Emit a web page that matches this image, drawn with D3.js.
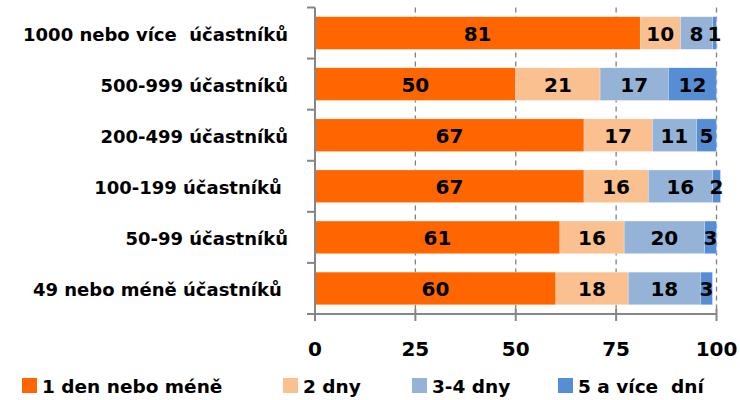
<!DOCTYPE html>
<html><head><meta charset="utf-8">
<script src="https://cdn.jsdelivr.net/npm/d3@7"></script>
<style>body{margin:0;background:#fff}svg{display:block}text{font-family:"DejaVu Sans",sans-serif;font-weight:bold;fill:#000}</style>
</head><body><svg id="c" width="740" height="400"></svg>
<script>
const categories = ["1000 nebo více\u00a0\u00a0účastníků","500-999 účastníků","200-499 účastníků","100-199 účastníků\u00a0","50-99 účastníků","49 nebo méně účastníků\u00a0"];
const seriesNames = ["1 den nebo méně","2 dny","3-4 dny","5 a více\u00a0\u00a0dní"];
const s1 = [81,50,67,67,61,60];
const s2 = [10,21,17,16,16,18];
const s3 = [8,17,11,16,20,18];
const s4 = [1,12,5,2,3,3];
const xTicks = [0,25,50,75,100];
const colors = ["#FF6600","#FAC090","#95B3D7","#558ED5"];

const svg = d3.select("#c");
const x = d3.scaleLinear().domain([0,100]).range([315,716.5]);
const y = d3.scaleBand().domain(categories).range([7.5,314]).paddingInner(0.36).paddingOuter(0.18);
const rows = categories.map((c,i)=>({cat:c, k0:s1[i], k1:s2[i], k2:s3[i], k3:s4[i]}));
const keys = ["k0","k1","k2","k3"];
const stacked = d3.stack().keys(keys)(rows);

svg.append("g").selectAll("line").data(xTicks.slice(1)).join("line")
  .attr("x1",d=>x(d)).attr("x2",d=>x(d)).attr("y1",7.5).attr("y2",314)
  .attr("stroke","#808080").attr("stroke-width",1.3).attr("stroke-dasharray","5,4");

const g = svg.append("g");
stacked.forEach((layer,li)=>{
  g.append("g").selectAll("rect").data(layer).join("rect")
    .attr("x",d=>x(d[0])).attr("width",d=>x(d[1])-x(d[0]))
    .attr("y",d=>y(d.data.cat)).attr("height",y.bandwidth())
    .attr("fill",colors[li]).attr("stroke","#fff").attr("stroke-width",0.5).attr("stroke-opacity",0.6);
});
stacked.forEach((layer,li)=>{
  g.append("g").selectAll("text").data(layer).join("text")
    .attr("x",d=>(x(d[0])+x(d[1]))/2).attr("y",d=>y(d.data.cat)+y.bandwidth()/2+1)
    .attr("text-anchor","middle").attr("dominant-baseline","central")
    .style("font-size","20px").text(d=>d.data[keys[li]]);
});

const ya = svg.append("g");
ya.append("line").attr("x1",315).attr("x2",315).attr("y1",7.5).attr("y2",321).attr("stroke","#868686").attr("stroke-width",2);
const bounds = categories.map(c=>y(c)-y.step()*y.paddingInner()/2).concat([314]);
bounds[0]=7.5;
ya.selectAll("line.t").data(bounds).join("line").attr("class","t")
  .attr("x1",307).attr("x2",315).attr("y1",d=>d).attr("y2",d=>d).attr("stroke","#868686").attr("stroke-width",2);
ya.selectAll("text").data(categories).join("text")
  .attr("x",288).attr("y",d=>y(d)+y.bandwidth()/2+1).attr("text-anchor","end").attr("dominant-baseline","central")
  .style("font-size","18px").text(d=>d);

const xa = svg.append("g");
xa.append("line").attr("x1",307).attr("x2",717).attr("y1",314).attr("y2",314).attr("stroke","#868686").attr("stroke-width",2);
xa.selectAll("line.t").data(xTicks).join("line").attr("class","t")
  .attr("x1",d=>x(d)).attr("x2",d=>x(d)).attr("y1",309).attr("y2",321).attr("stroke","#868686").attr("stroke-width",2);
xa.selectAll("text").data(xTicks).join("text")
  .attr("x",d=>x(d)).attr("y",349).attr("text-anchor","middle").attr("dominant-baseline","central")
  .style("font-size","20px").text(d=>d);

const legX = [22,283,412,558];
const lg = svg.append("g");
seriesNames.forEach((n,i)=>{
  lg.append("rect").attr("x",legX[i]).attr("y",378).attr("width",15).attr("height",15).attr("fill",colors[i]);
  lg.append("text").attr("x",legX[i]+20).attr("y",386).attr("dominant-baseline","central").style("font-size","18.5px").text(n);
});
</script></body></html>
